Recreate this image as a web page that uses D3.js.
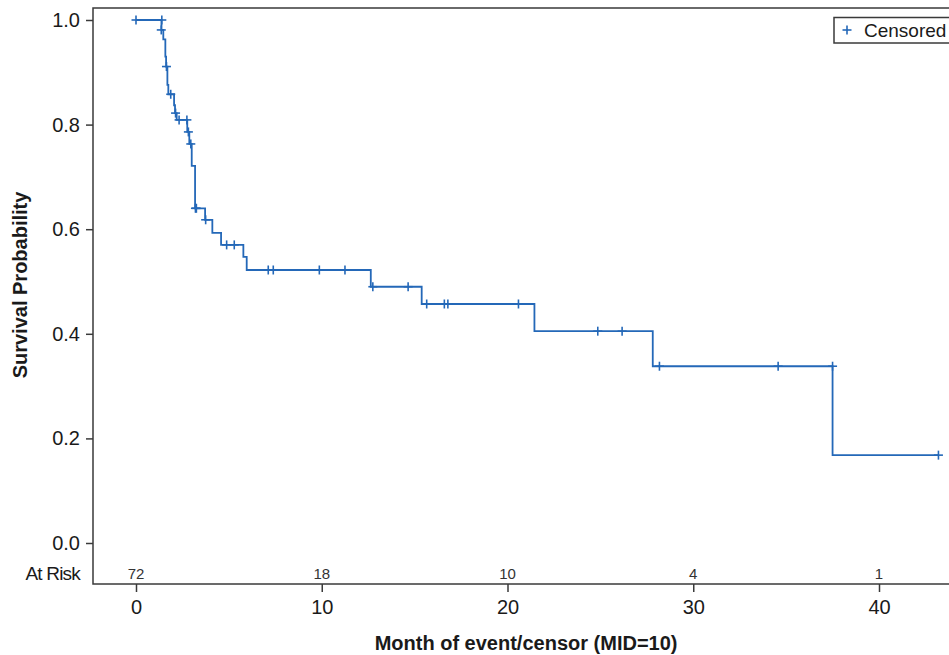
<!DOCTYPE html>
<html>
<head>
<meta charset="utf-8">
<script src="https://cdn.jsdelivr.net/npm/d3@7/dist/d3.min.js"></script>
<style>
  body { margin: 0; background: #fff; }
  svg { display: block; font-family: "Liberation Sans", Arial, sans-serif; }
</style>
</head>
<body>
<svg id="chart" width="949" height="655"></svg>
<script>
// Kaplan-Meier step curve: time (months) at which each step starts, and survival after it
const stepTimes = [0, 1.37, 1.47, 1.58, 1.62, 1.69, 1.74, 2.05, 2.10, 2.19, 2.76, 2.87, 3.00, 3.18, 3.72, 4.11, 4.58, 5.78, 5.96, 12.64, 15.38, 21.45, 27.82, 37.50, 43.20];
const stepSurv  = [1.0, 0.981, 0.963, 0.930, 0.911, 0.876, 0.858, 0.837, 0.822, 0.809, 0.786, 0.763, 0.721, 0.640, 0.618, 0.593, 0.570, 0.547, 0.522, 0.490, 0.457, 0.405, 0.338, 0.168, 0.168];

// Censored observations (time, survival at that time)
const censorTimes = [0, 1.39, 1.36, 1.64, 1.87, 2.13, 2.32, 2.74, 2.82, 2.95, 3.20, 3.25, 3.75, 4.88, 5.29, 7.12, 7.39, 9.87, 11.25, 12.75, 14.65, 15.65, 16.60, 16.79, 20.59, 24.86, 26.17, 28.18, 34.57, 37.50, 43.20];
const censorSurv  = [1.0, 1.0, 0.981, 0.911, 0.858, 0.822, 0.809, 0.809, 0.786, 0.763, 0.640, 0.640, 0.618, 0.570, 0.570, 0.522, 0.522, 0.522, 0.522, 0.490, 0.490, 0.457, 0.457, 0.457, 0.457, 0.405, 0.405, 0.338, 0.338, 0.338, 0.168];

// Number at risk
const riskTimes  = [0, 10, 20, 30, 40];
const riskCounts = [72, 18, 10, 4, 1];

const xTicks = [0, 10, 20, 30, 40];
const yTicks = [0, 0.2, 0.4, 0.6, 0.8, 1.0];
const yTickLabels = ["0.0", "0.2", "0.4", "0.6", "0.8", "1.0"];

const lineColor = "#2468b8";
const axisColor = "#3a3a3a";
const textColor = "#1a1a1a";

const svg = d3.select("#chart");

const frame = { left: 93, top: 8, right: 970, bottom: 584 };
const x = d3.scaleLinear().domain([0, 40]).range([136, 879]);
const y = d3.scaleLinear().domain([0, 1]).range([543, 20]);

// Plot frame
svg.append("rect")
  .attr("x", frame.left).attr("y", frame.top)
  .attr("width", frame.right - frame.left).attr("height", frame.bottom - frame.top)
  .attr("fill", "none").attr("stroke", axisColor).attr("stroke-width", 1.5);

// Y axis
const yAxis = d3.axisLeft(y).tickValues(yTicks)
  .tickFormat((d, i) => yTickLabels[i]).tickSize(7).tickPadding(6);
const yg = svg.append("g").attr("transform", `translate(${frame.left},0)`).call(yAxis);
yg.select(".domain").remove();
yg.selectAll(".tick line").attr("stroke", axisColor).attr("stroke-width", 1.5);
yg.selectAll(".tick text").attr("fill", textColor)
  .style("font-size", "20px").style("font-family", "Liberation Sans, Arial, sans-serif");

// X axis
const xAxis = d3.axisBottom(x).tickValues(xTicks).tickSize(8).tickPadding(8);
const xg = svg.append("g").attr("transform", `translate(0,${frame.bottom})`).call(xAxis);
xg.select(".domain").remove();
xg.selectAll(".tick line").attr("stroke", axisColor).attr("stroke-width", 1.5);
xg.selectAll(".tick text").attr("fill", textColor)
  .style("font-size", "20px").style("font-family", "Liberation Sans, Arial, sans-serif");

// Axis titles
svg.append("text")
  .attr("x", x(21.0)).attr("y", 650)
  .attr("text-anchor", "middle")
  .style("font-size", "20px").style("font-weight", "bold").attr("fill", textColor)
  .text("Month of event/censor (MID=10)");

svg.append("text")
  .attr("transform", `translate(27,${(190 + 380) / 2}) rotate(-90)`)
  .attr("text-anchor", "middle")
  .style("font-size", "20px").style("font-weight", "bold").attr("fill", textColor)
  .text("Survival Probability");

// Survival step curve
const curvePts = stepTimes.map((t, i) => [t, stepSurv[i]]);
const line = d3.line().x(d => x(d[0])).y(d => y(d[1])).curve(d3.curveStepAfter);
svg.append("path")
  .datum(curvePts)
  .attr("d", line)
  .attr("fill", "none")
  .attr("stroke", lineColor)
  .attr("stroke-width", 1.8);

// Censor marks
const half = 4.5;
const marks = svg.append("g").attr("stroke", lineColor).attr("stroke-width", 1.6);
censorTimes.forEach((t, i) => {
  const cx = x(t), cy = y(censorSurv[i]);
  marks.append("line").attr("x1", cx - half).attr("x2", cx + half).attr("y1", cy).attr("y2", cy);
  marks.append("line").attr("x1", cx).attr("x2", cx).attr("y1", cy - half).attr("y2", cy + half);
});

// At-risk row
svg.append("text")
  .attr("x", 80).attr("y", 580).attr("text-anchor", "end")
  .style("font-size", "19px").style("letter-spacing", "-0.8px").attr("fill", textColor)
  .text("At Risk");
svg.append("g").selectAll("text")
  .data(riskTimes)
  .join("text")
  .attr("x", d => x(d)).attr("y", 579)
  .attr("text-anchor", "middle")
  .style("font-size", "15px").attr("fill", "#333")
  .text((d, i) => riskCounts[i]);

// Legend
const lg = svg.append("g");
lg.append("rect").attr("x", 834).attr("y", 17.5).attr("width", 140).attr("height", 25.5)
  .attr("fill", "#fff").attr("stroke", axisColor).attr("stroke-width", 1.5);
const lx = 847, ly = 30;
lg.append("line").attr("x1", lx - half).attr("x2", lx + half).attr("y1", ly).attr("y2", ly)
  .attr("stroke", lineColor).attr("stroke-width", 1.6);
lg.append("line").attr("x1", lx).attr("x2", lx).attr("y1", ly - half).attr("y2", ly + half)
  .attr("stroke", lineColor).attr("stroke-width", 1.6);
lg.append("text").attr("x", 864).attr("y", 37)
  .style("font-size", "19px").attr("fill", textColor)
  .text("Censored");
</script>
</body>
</html>
